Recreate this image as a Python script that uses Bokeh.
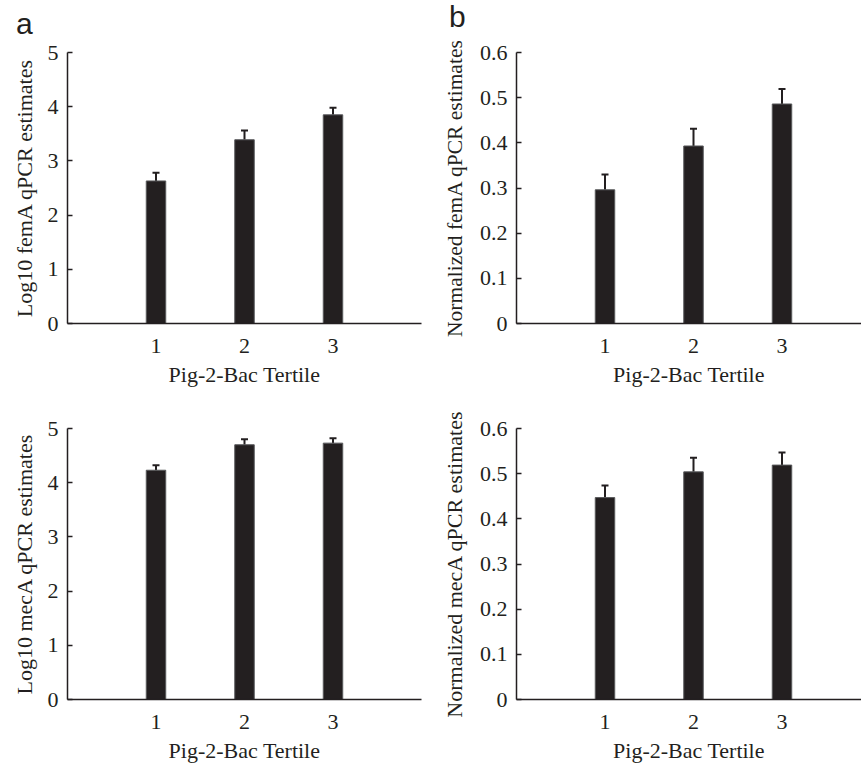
from bokeh.plotting import figure
from bokeh.models import (Range1d, FixedTicker, CustomJSTickFormatter, Whisker,
                          TeeHead, ColumnDataSource, Div)
from bokeh.layouts import column, row
from bokeh.embed import file_html
from bokeh.resources import INLINE

# ---- data ----
tertiles = [1, 2, 3]
x_label = "Pig-2-Bac Tertile"
panel_letters = ["a", "b"]

log10_femA = [2.63, 3.39, 3.85]
log10_femA_err = [0.15, 0.17, 0.13]

norm_femA = [0.296, 0.393, 0.486]
norm_femA_err = [0.034, 0.038, 0.033]

log10_mecA = [4.23, 4.70, 4.73]
log10_mecA_err = [0.09, 0.10, 0.09]

norm_mecA = [0.447, 0.504, 0.519]
norm_mecA_err = [0.027, 0.031, 0.028]

log_ticks = [0, 1, 2, 3, 4, 5]
norm_ticks = [0, 0.1, 0.2, 0.3, 0.4, 0.5, 0.6]

INK = "#231f20"
SERIF = "Liberation Serif"
SANS = "Liberation Sans"
FS = "22px"

LEFT_W, RIGHT_W = 438, 423
LETTER_H = 35


def make_panel(values, errors, ylabel, y_max, y_ticks, width, height,
               b_left, b_right, b_top, b_bottom, x_end, ylabel_standoff=8,
               ylabel_size=FS):
    p = figure(width=width, height=height,
               x_range=Range1d(0, x_end), y_range=Range1d(0, y_max),
               output_backend="svg", toolbar_location=None,
               min_border_left=b_left, min_border_right=b_right,
               min_border_top=b_top, min_border_bottom=b_bottom)
    p.outline_line_color = None
    p.grid.visible = False

    upper = [v + e for v, e in zip(values, errors)]
    src = ColumnDataSource(dict(x=tertiles, top=values, upper=upper))

    p.add_layout(Whisker(source=src, base="x", lower="top", upper="upper",
                         dimension="height", line_color=INK, line_width=2,
                         upper_head=TeeHead(size=7, line_color=INK, line_width=2),
                         lower_head=None))
    p.vbar(x="x", top="top", width=0.22, source=src,
           fill_color=INK, line_color="#58595b", line_width=1)

    for ax in (p.xaxis[0], p.yaxis[0]):
        ax.axis_line_color = INK
        ax.axis_line_width = 1.5
        ax.major_tick_line_color = INK
        ax.major_tick_line_width = 1.5
        ax.minor_tick_line_color = None
        ax.major_label_text_font = SERIF
        ax.major_label_text_font_size = FS
        ax.major_label_text_color = INK
        ax.axis_label_text_font = SERIF
        ax.axis_label_text_font_size = FS
        ax.axis_label_text_font_style = "normal"
        ax.axis_label_text_color = INK

    xa = p.xaxis[0]
    xa.ticker = FixedTicker(ticks=tertiles)
    xa.major_tick_in = 0
    xa.major_tick_out = 0
    xa.major_label_standoff = 15
    xa.axis_label = x_label
    xa.axis_label_standoff = 6

    ya = p.yaxis[0]
    ya.ticker = FixedTicker(ticks=y_ticks)
    ya.formatter = CustomJSTickFormatter(code="return String(Math.round(tick*10)/10);")
    ya.major_tick_in = 5
    ya.major_tick_out = 0
    ya.major_label_standoff = 9
    ya.axis_label = ylabel
    ya.axis_label_standoff = ylabel_standoff
    ya.axis_label_text_font_size = ylabel_size
    return p


def letter_div(letter, width, pad_left, pad_top):
    html = (f'<div style="font-family:\'{SANS}\';font-size:30px;line-height:30px;'
            f'color:{INK};padding-left:{pad_left}px;padding-top:{pad_top}px;">'
            f'{letter}</div>')
    return Div(text=html, width=width, height=LETTER_H, margin=(0, 0, 0, 0))


px_per_unit = 354 / 4.0
right_x_end = 345 / px_per_unit

TOP_H = 17 + 271 + 77
BOT_H = 28 + 271 + 67
p1 = make_panel(log10_femA, log10_femA_err, "Log10 femA qPCR estimates", 5, log_ticks,
                LEFT_W, TOP_H, 67, 17, 17, 77, 4)
p2 = make_panel(norm_femA, norm_femA_err, "Normalized femA qPCR estimates", 0.6, norm_ticks,
                RIGHT_W, TOP_H, 78, 0, 17, 77, right_x_end, ylabel_standoff=10,
                ylabel_size="21.5px")
p3 = make_panel(log10_mecA, log10_mecA_err, "Log10 mecA qPCR estimates", 5, log_ticks,
                LEFT_W, BOT_H, 67, 17, 28, 67, 4)
p4 = make_panel(norm_mecA, norm_mecA_err, "Normalized mecA qPCR estimates", 0.6, norm_ticks,
                RIGHT_W, BOT_H, 78, 0, 28, 67, right_x_end, ylabel_standoff=10)

d1 = letter_div(panel_letters[0], LEFT_W, 16, 9)
d2 = letter_div(panel_letters[1], RIGHT_W, 11, 2)

layout = column(row(d1, d2), row(p1, p2), row(p3, p4))

open("out.html", "w").write(file_html(layout, INLINE))
